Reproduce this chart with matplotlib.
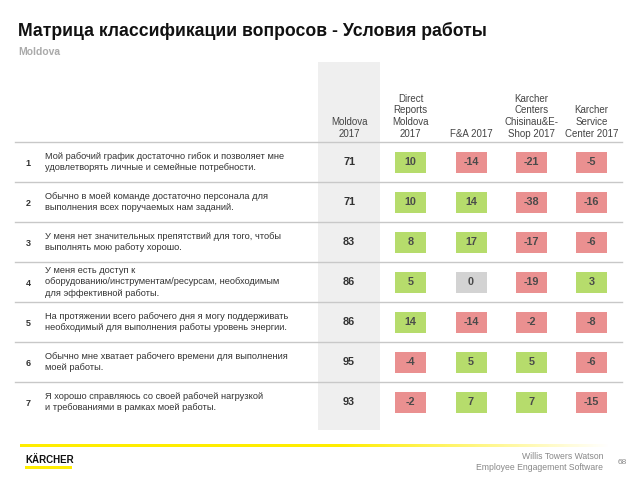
import numpy as np
import matplotlib
matplotlib.use("Agg")
import matplotlib.pyplot as plt
from matplotlib.patches import Rectangle

plt.rcParams['font.family'] = ['Liberation Sans', 'DejaVu Sans']

title = "Матрица классификации вопросов - Условия работы"
subtitle = "Moldova"

col_headers = ["Moldova\n2017", "Direct\nReports\nMoldova\n2017", "F&A 2017",
               "Karcher\nCenters\nChisinau&E-\nShop 2017", "Karcher\nService\nCenter 2017"]

row_nums = ["1", "2", "3", "4", "5", "6", "7"]
questions = [
    "Мой рабочий график достаточно гибок и позволяет мне\nудовлетворять личные и семейные потребности.",
    "Обычно в моей команде достаточно персонала для\nвыполнения всех поручаемых нам заданий.",
    "У меня нет значительных препятствий для того, чтобы\nвыполнять мою работу хорошо.",
    "У меня есть доступ к\nоборудованию/инструментам/ресурсам, необходимым\nдля эффективной работы.",
    "На протяжении всего рабочего дня я могу поддерживать\nнеобходимый для выполнения работы уровень энергии.",
    "Обычно мне хватает рабочего времени для выполнения\nмоей работы.",
    "Я хорошо справляюсь со своей рабочей нагрузкой\nи требованиями в рамках моей работы.",
]

moldova_2017 = [71, 71, 83, 86, 86, 95, 93]
direct_reports = [10, 10, 8, 5, 14, -4, -2]
fa_2017 = [-14, 14, 17, 0, -14, 5, 7]
centers_chisinau = [-21, -38, -17, -19, -2, 5, 7]
service_center = [-5, -16, -6, 3, -8, -6, -15]

GREEN = "#b6dc6c"
RED = "#ea9090"
GREY = "#d3d3d3"

fig = plt.figure(figsize=(6.4, 4.8), dpi=100)
ax = fig.add_axes([0, 0, 1, 1])

# titles
ax.text(18, 31, title, fontsize=12.7, fontweight="bold", color="#111111", va="center")
ax.text(18, 52, subtitle, fontsize=7.5, fontweight="bold", color="#aaaaaa", va="center")

# layout
col_x = [349, 410.5, 471, 531.5, 591.5]
top = 142
row_h = 40
box_w, box_h = 31, 21

# shaded Moldova column
ax.add_patch(Rectangle((318, 62), 62, 368, facecolor="#efefef", edgecolor="none", zorder=0))

# headers
for x, h in zip(col_x, col_headers):
    ax.text(x, 139, h, fontsize=7, color="#444444", ha="center", va="bottom",
            linespacing=1.22)

# lines
for i in range(len(questions)):
    y = top + i * row_h
    ax.plot([15, 622], [y, y], color="#c8c8c8", lw=1.0, zorder=1)

diffs = [direct_reports, fa_2017, centers_chisinau, service_center]

for i, (num, q) in enumerate(zip(row_nums, questions)):
    yc = top + i * row_h + row_h / 2
    ax.text(28, yc + 2, num, fontsize=6.5, fontweight="bold", color="#333333",
            ha="center", va="center")
    ax.text(45, yc, q, fontsize=6.7, color="#333333", ha="left", va="center",
            linespacing=1.3)
    ax.text(col_x[0], yc, str(moldova_2017[i]), fontsize=7.8, fontweight="bold",
            color="#333333", ha="center", va="center")
    for j, series in enumerate(diffs):
        v = series[i]
        c = GREEN if v > 0 else (RED if v < 0 else GREY)
        x = col_x[j + 1]
        ax.add_patch(Rectangle((x - box_w / 2, yc - box_h / 2), box_w, box_h,
                               facecolor=c, edgecolor="none", zorder=2))
        ax.text(x, yc, str(v), fontsize=7.8, fontweight="bold", color="#4a4a4a",
                ha="center", va="center", zorder=3)

# footer: yellow fading line
grad = np.ones((1, 300, 4))
grad[..., 1] = 0.93
grad[..., 2] = 0.0
grad[..., 3] = np.clip((1 - np.linspace(0, 1, 300)) * 2.2, 0, 1)
ax.imshow(grad, extent=[20, 610, 447.5, 444.5], aspect="auto", zorder=1)

ax.text(25, 460, "KÄRCHER", fontsize=7, fontweight="bold", color="#111111",
        ha="left", va="center")
ax.add_patch(Rectangle((25, 466), 47, 2.5, facecolor="#ffed00", edgecolor="none"))

ax.text(603, 462, "Willis Towers Watson\nEmployee Engagement Software", fontsize=6.2,
        color="#888888", ha="right", va="center", linespacing=1.4)
ax.text(622, 463, "68", fontsize=6, color="#888888", ha="center", va="center")

ax.set_xlim(0, 640)
ax.set_ylim(480, 0)
ax.axis("off")

fig.savefig("out.png", dpi=100)
